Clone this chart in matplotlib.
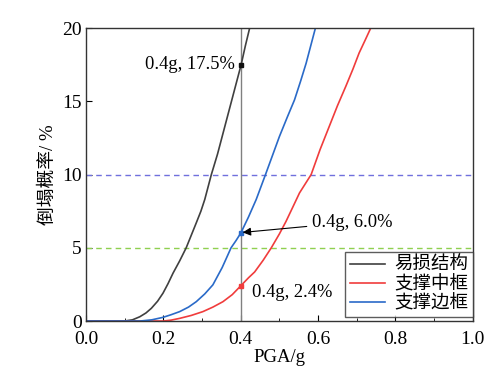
import matplotlib
matplotlib.use("Agg")
import matplotlib.pyplot as plt
from matplotlib.ticker import MultipleLocator

plt.rcParams['font.family'] = ['Liberation Serif', 'Noto Sans CJK SC']
plt.rcParams['mathtext.fontset'] = 'stix'

# data
black_x = [0.0, 0.10, 0.12, 0.139, 0.155, 0.169, 0.185, 0.199, 0.212, 0.225, 0.242, 0.259, 0.272, 0.285, 0.297, 0.307, 0.324, 0.340, 0.354, 0.367, 0.380, 0.391, 0.401, 0.412, 0.423]
black_y = [0.0, 0.0, 0.08, 0.29, 0.55, 0.87, 1.35, 1.9, 2.55, 3.27, 4.1, 5.0, 5.85, 6.7, 7.5, 8.3, 10.0, 11.4, 12.8, 14.1, 15.4, 16.5, 17.5, 18.8, 20.0]
blue_x = [0.0, 0.14, 0.17, 0.199, 0.22, 0.242, 0.265, 0.285, 0.307, 0.328, 0.352, 0.375, 0.388, 0.40, 0.42, 0.44, 0.464, 0.482, 0.50, 0.52, 0.539, 0.555, 0.569, 0.582, 0.593]
blue_y = [0.0, 0.0, 0.08, 0.25, 0.43, 0.64, 0.95, 1.32, 1.85, 2.47, 3.65, 5.0, 5.5, 6.0, 7.1, 8.3, 10.0, 11.3, 12.6, 13.9, 15.1, 16.4, 17.6, 18.9, 20.0]
red_x = [0.0, 0.20, 0.22, 0.242, 0.272, 0.302, 0.328, 0.354, 0.378, 0.40, 0.42, 0.436, 0.458, 0.479, 0.50, 0.517, 0.535, 0.552, 0.582, 0.605, 0.629, 0.650, 0.672, 0.690, 0.706, 0.722, 0.736]
red_y = [0.0, 0.0, 0.06, 0.18, 0.38, 0.64, 0.95, 1.32, 1.8, 2.4, 2.95, 3.35, 4.15, 5.0, 5.95, 6.8, 7.8, 8.75, 10.0, 11.7, 13.3, 14.7, 16.05, 17.2, 18.3, 19.2, 20.0]
labels = ['易损结构', '支撑中框', '支撑边框']
pga_mark = 0.4
mark_vals = [17.5, 2.4, 6.0]
ref_levels = [10, 5]

c_black = '#404040'
c_red = '#f03c3c'
c_blue = '#2a6ac8'

fig = plt.figure(figsize=(5.03, 3.91), dpi=100)
ax = fig.add_axes([0.171, 0.179, 0.769, 0.749])

ax.axhline(ref_levels[0], color='#7070dd', lw=1.0, ls=(0, (4, 3)))
ax.axhline(ref_levels[1], color='#8fd050', lw=1.0, ls=(0, (4, 3)))
ax.axvline(pga_mark, color='#808080', lw=1.0)

ax.plot(black_x, black_y, color=c_black, lw=1.2, label=labels[0])
ax.plot(red_x, red_y, color=c_red, lw=1.2, label=labels[1])
ax.plot(blue_x, blue_y, color=c_blue, lw=1.2, label=labels[2])

ax.plot([pga_mark], [mark_vals[0]], 's', color='#111111', ms=3.5)
ax.plot([pga_mark], [mark_vals[1]], 's', color=c_red, ms=3.5)
ax.plot([pga_mark], [mark_vals[2]], 's', color=c_blue, ms=3.5)

fs_ann = 13.3
ax.text(0.385, 17.55, '0.4g, 17.5%', fontsize=fs_ann, ha='right', va='center')
ax.annotate('0.4g, 6.0%', xy=(0.405, 6.05), xytext=(0.585, 6.75), fontsize=fs_ann,
            ha='left', va='center',
            arrowprops=dict(arrowstyle='-|>', color='black', lw=0.8, mutation_scale=12,
                            shrinkA=2, shrinkB=0))
ax.text(0.428, 1.95, '0.4g, 2.4%', fontsize=fs_ann, ha='left', va='center')

ax.set_xlim(0, 1.0)
ax.set_ylim(0, 20)
ax.xaxis.set_minor_locator(MultipleLocator(0.1))
ax.yaxis.set_major_locator(MultipleLocator(5))
ax.set_xticks([0, 0.2, 0.4, 0.6, 0.8, 1.0])
ax.set_xticklabels(['0.0', '0.2', '0.4', '0.6', '0.8', '1.0'])
ax.tick_params(direction='in', which='both', labelsize=14, length=4)
ax.tick_params(axis='x', pad=7)
ax.tick_params(axis='y', pad=3)
ax.tick_params(which='minor', length=2.5)
for s in ax.spines.values():
    s.set_linewidth(1.0)
    s.set_color('#333333')

ax.set_xlabel('PGA/g', fontsize=13.5, labelpad=1)
ax.set_ylabel('倒塌概率/ %', fontsize=13.5, labelpad=4)

leg = ax.legend(loc='lower right', bbox_to_anchor=(1.0, 0.012), fontsize=13.3,
                frameon=True, fancybox=False, edgecolor='#333333', borderaxespad=0.0,
                handlelength=1.9, borderpad=0.25, labelspacing=0.1, handletextpad=0.5)
leg.get_frame().set_linewidth(1.0)

fig.savefig('out.png', dpi=100)
